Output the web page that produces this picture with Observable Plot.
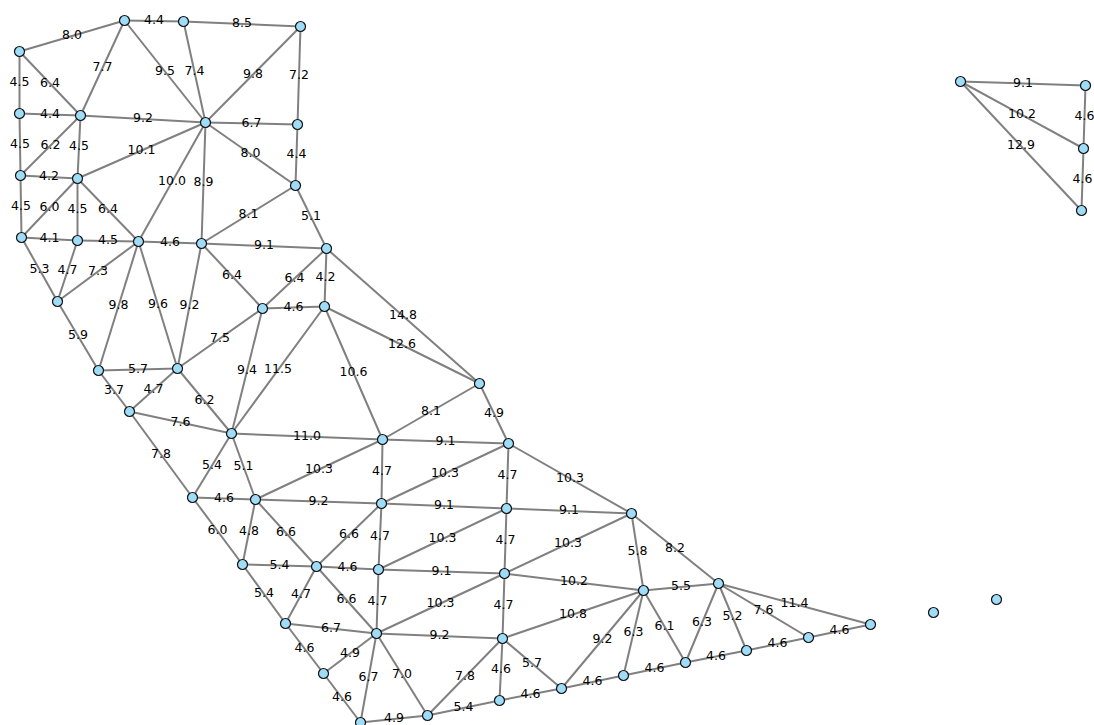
<!DOCTYPE html>
<html>
<head>
<meta charset="utf-8">
<script src="https://cdn.jsdelivr.net/npm/d3@7"></script>
<script src="https://cdn.jsdelivr.net/npm/@observablehq/plot@0.6"></script>
<style>
  html, body { margin: 0; padding: 0; background: #fff; }
  #chart svg { display: block; }
</style>
</head>
<body>
<div id="chart"></div>
<script>
// Graph layout: node ids with their layout coordinates (layout units)
const nodeIds = ["A","B","C","D","E","F","G","H","I","J","K","L","M","N","O","P",
  "Q","R","S","T","U","V","W","X","Y","Z",
  "a","b","c","d","e","f","g","h","i","j","k","l","m","n","o",
  "p","q","r","s","t","u","v","w","x",
  "y1","y2","y3","y4","iso1","iso2"];
const nodeLayoutX = [124,183,300,19,19,80,205,297,20,77,295,21,77,138,201,326,
  57,262,324,98,177,129,231,479,382,508,
  192,255,381,506,242,316,378,504,285,376,502,323,360,427,499,
  631,643,718,561,623,685,746,808,870,
  960,1085,1083,1081,933,996];
const nodeLayoutY = [20,21,26,51,113,115,122,124,175,178,185,237,240,241,243,248,
  301,308,306,370,368,411,433,383,439,443,
  497,499,503,508,564,566,569,573,623,633,638,673,722,715,700,
  513,590,583,688,675,662,650,637,624,
  81,85,148,210,612,599];

// Edges: source, target, weight
const edgeSource = ["A","B","A","A","A","B","C","C","D","D","E","F","G","E","F","F","J","G","H",
  "I","I","J","J","J","G","G","K","K","L","M","N","O","L","M","N","N","N","O","O","P","P","R",
  "P","S","Q","T","U","R","S","S","T","U","U","V","W","Y","X","Y",
  "V","W","W","b","Y","c","Z","Z","a","b","c","d","a","b","b","f","c","g","d","h",
  "e","f","g","h","p","p","e","i","f","g","j","h","k","q","i","j","i","l","l","j","j","k","k","k",
  "m","n","o","s","t","q","r","r","r","r","s","t","u","v","w",
  "y1","y1","y1","y2","y3"];
const edgeTarget = ["B","C","D","F","G","G","G","H","E","F","F","G","H","I","I","J","G","K","K",
  "J","L","L","M","N","N","O","O","P","M","N","O","P","Q","Q","Q","T","U","U","R","R","S","S",
  "X","X","T","U","R","W","W","Y","V","V","W","W","Y","X","Z","Z",
  "a","a","b","Y","c","Z","d","p","b","c","d","p","e","e","f","c","g","d","h","p",
  "f","g","h","q","q","r","i","f","j","j","h","k","q","r","j","k","l","j","m","m","n","n","o","s",
  "n","o","s","q","q","u","u","v","w","x","t","u","v","w","x",
  "y2","y3","y4","y3","y4"];
const edgeWeight = [4.4,8.5,8.0,7.7,9.5,7.4,9.8,7.2,4.5,6.4,4.4,9.2,6.7,4.5,6.2,4.5,10.1,8.0,4.4,
  4.2,4.5,6.0,4.5,6.4,10.0,8.9,8.1,5.1,4.1,4.5,4.6,9.1,5.3,4.7,7.3,9.8,9.6,9.2,6.4,6.4,4.2,4.6,
  14.8,12.6,5.9,5.7,7.5,9.4,11.5,10.6,3.7,4.7,6.2,7.6,11.0,8.1,4.9,9.1,
  7.8,5.4,5.1,10.3,4.7,10.3,4.7,10.3,4.6,9.2,9.1,9.1,6.0,4.8,6.6,6.6,4.7,10.3,4.7,10.3,
  5.4,4.6,9.1,10.2,5.8,8.2,5.4,4.7,6.6,4.7,10.3,4.7,10.8,5.5,6.7,9.2,4.6,4.9,4.6,6.7,7.0,7.8,4.6,5.7,
  4.9,5.4,4.6,9.2,6.3,6.1,6.3,5.2,7.6,11.4,4.6,4.6,4.6,4.6,4.6,
  9.1,10.2,12.9,4.6,4.6];

// Build tables for the library
const nodes = nodeIds.map((id, i) => ({id, x: nodeLayoutX[i], y: nodeLayoutY[i]}));
const byId = new Map(nodes.map(n => [n.id, n]));
const edges = edgeSource.map((s, i) => {
  const a = byId.get(s), b = byId.get(edgeTarget[i]);
  return {x1: a.x, y1: a.y, x2: b.x, y2: b.y,
          mx: (a.x + b.x) / 2, my: (a.y + b.y) / 2, w: edgeWeight[i]};
});

const W = 1094, H = 725;
const chart = Plot.plot({
  width: W,
  height: H,
  margin: 0,
  x: {domain: [0, W], range: [0, W], axis: null},
  y: {domain: [0, H], range: [0, H], axis: null},
  style: {background: "#fff", fontFamily: "DejaVu Sans, sans-serif"},
  marks: [
    Plot.link(edges, {x1: "x1", y1: "y1", x2: "x2", y2: "y2", stroke: "#808080", strokeWidth: 2}),
    Plot.text(edges, {x: "mx", y: "my", text: d => d.w.toFixed(1), fontSize: 12.5, fill: "#000", dy: -1}),
    Plot.dot(nodes, {x: "x", y: "y", r: 5, fill: "#9fdcf7", stroke: "#111", strokeWidth: 1.2})
  ]
});
document.getElementById("chart").appendChild(chart);
</script>
</body>
</html>
